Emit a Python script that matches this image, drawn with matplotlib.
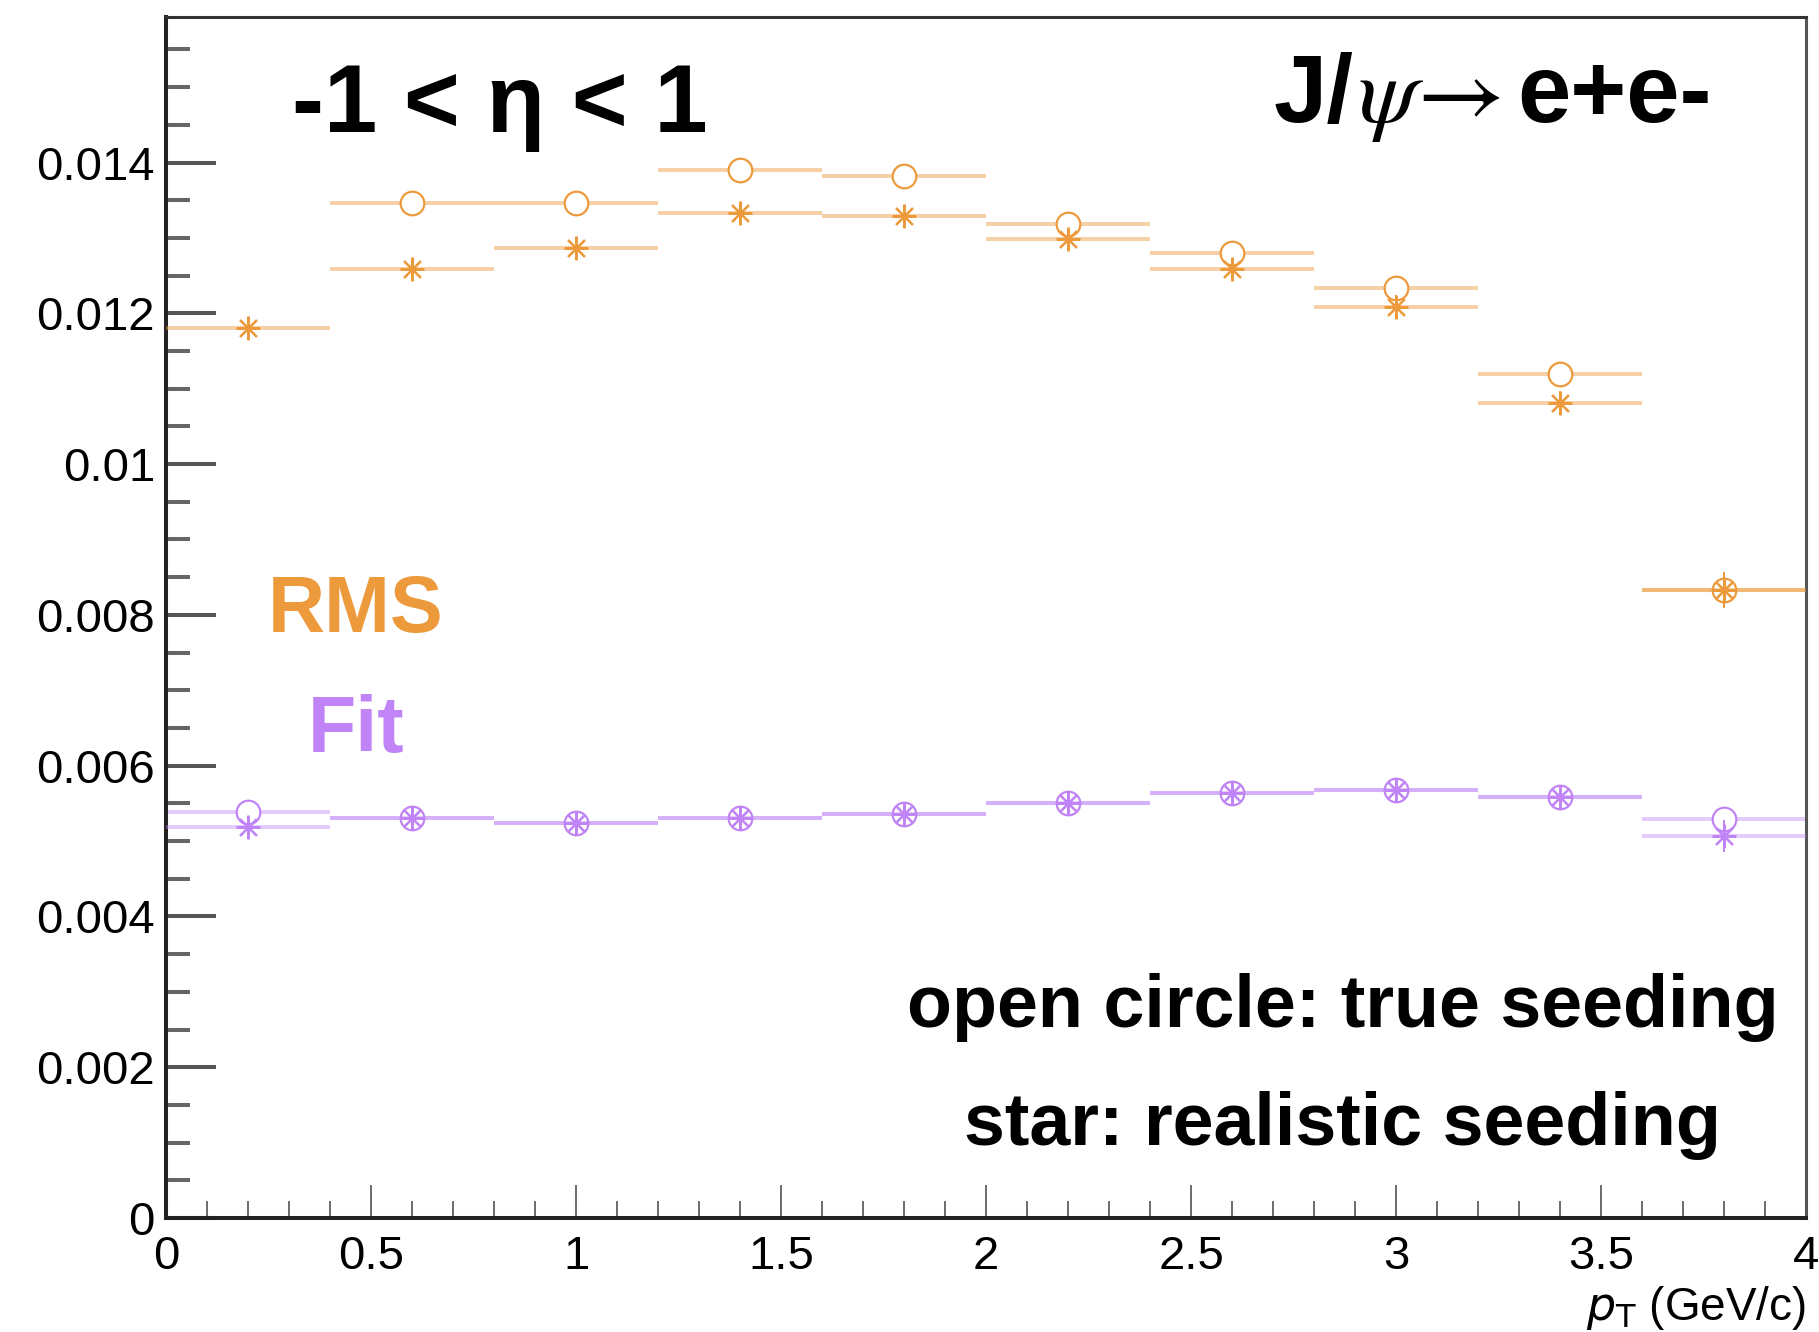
import numpy as np
import matplotlib
matplotlib.use("Agg")
import matplotlib.pyplot as plt
from matplotlib.ticker import MultipleLocator, FuncFormatter

plt.rcParams['font.family'] = ['Liberation Sans', 'DejaVu Sans']

# pT bins (centres, half width)
pt = [0.2, 0.6, 1.0, 1.4, 1.8, 2.2, 2.6, 3.0, 3.4, 3.8]
pt_half = [0.2] * 10

# RMS, open circle = true seeding, star = realistic seeding
rms_true = [np.nan, 0.01347, 0.01347, 0.01390, 0.01382, 0.01319, 0.01280, 0.01234, 0.01120, 0.00833]
rms_true_err = [0.0, 0.00008, 0.00008, 0.00008, 0.00008, 0.00008, 0.00008, 0.00009, 0.00010, 0.00024]
rms_real = [0.01181, 0.01259, 0.01287, 0.01333, 0.01329, 0.01298, 0.01259, 0.01209, 0.01081, 0.00833]
rms_real_err = [0.00013, 0.00014, 0.00014, 0.00014, 0.00014, 0.00014, 0.00014, 0.00015, 0.00016, 0.00024]

# Gaussian fit width
fit_true = [0.00539, 0.00531, 0.00524, 0.00531, 0.00536, 0.00550, 0.00564, 0.00568, 0.00559, 0.00529]
fit_true_err = [0.00008, 0.00008, 0.00008, 0.00008, 0.00008, 0.00008, 0.00008, 0.00008, 0.00008, 0.00016]
fit_real = [0.00518, 0.00531, 0.00524, 0.00531, 0.00536, 0.00550, 0.00564, 0.00568, 0.00559, 0.00507]
fit_real_err = [0.00012, 0.00012, 0.00012, 0.00012, 0.00012, 0.00012, 0.00012, 0.00012, 0.00012, 0.00021]

orange = '#EC9A3C'
purple = '#C084F6'

fig = plt.figure(figsize=(18.19, 13.32), dpi=100)
ax = fig.add_axes([0.0913, 0.0856, 0.9016, 0.9016])


def draw_series(x, y, yerr, color, marker, line_alpha, z):
    # horizontal bin-width bars (light), then thin vertical errors + marker
    ax.errorbar(x, y, xerr=pt_half, fmt='none', ecolor=color, elinewidth=2.9,
                alpha=line_alpha, capsize=0, zorder=z)
    ax.errorbar(x, y, yerr=yerr, fmt='none', ecolor=color, elinewidth=1.4,
                capsize=0, zorder=z + 0.1)
    if marker == 'o':
        ax.plot(x, y, linestyle='none', marker='o', ms=17, mfc='white', mec=color,
                mew=1.6, zorder=z + 0.2)
    else:
        ax.plot(x, y, linestyle='none', marker=(8, 2, 0), ms=17, mec=color,
                mew=1.6, zorder=z + 0.2)


draw_series(pt, rms_true, rms_true_err, orange, 'o', 0.45, 2)
draw_series(pt, rms_real, rms_real_err, orange, '*', 0.45, 3)
draw_series(pt, fit_true, fit_true_err, purple, 'o', 0.4, 2)
draw_series(pt, fit_real, fit_real_err, purple, '*', 0.4, 3)

ax.set_xlim(0, 4)
ax.set_ylim(0, 0.01593)

ax.xaxis.set_major_locator(MultipleLocator(0.5))
ax.xaxis.set_minor_locator(MultipleLocator(0.1))
ax.yaxis.set_major_locator(MultipleLocator(0.002))
ax.yaxis.set_minor_locator(MultipleLocator(0.0005))
fmt = FuncFormatter(lambda v, p: '0' if abs(v) < 1e-12 else '%g' % round(v, 6))
ax.xaxis.set_major_formatter(fmt)
ax.yaxis.set_major_formatter(fmt)

ax.tick_params(axis='y', which='major', direction='in', length=36, width=2.9,
               color='#555555', labelsize=34, pad=8, right=False)
ax.tick_params(axis='y', which='minor', direction='in', length=17, width=2.9,
               color='#666666', right=False)
ax.tick_params(axis='x', which='major', direction='in', length=24, width=1.1,
               color='#444444', labelsize=34, pad=12, top=False)
ax.tick_params(axis='x', which='minor', direction='in', length=12, width=1.1,
               color='#444444', top=False)

for side, lw, c in [('left', 2.9, '#222222'), ('bottom', 2.9, '#222222'),
                    ('top', 2.2, '#333333'), ('right', 2.2, '#555555')]:
    ax.spines[side].set_linewidth(lw)
    ax.spines[side].set_color(c)

ax.set_xlabel(r'$p_{\mathrm{T}}$ (GeV/c)', fontsize=33, loc='right', labelpad=4)


def px(x, y):
    return x / 1819, 1 - y / 1332


fig.text(*px(292, 132), '-1 < η < 1', fontsize=69, fontweight='bold',
         ha='left', va='baseline')
# J/psi -> e+e-, split so the symbol-font psi and arrow sit like the original
fig.text(*px(1274, 122), 'J/', fontsize=69, fontweight='bold',
         ha='left', va='baseline')
fig.text(*px(1358, 122), r'$\psi\!\rightarrow$', fontsize=69,
         ha='left', va='baseline', math_fontfamily='stix')
fig.text(*px(1517, 122), 'e+e-', fontsize=69, fontweight='bold',
         ha='left', va='baseline')
fig.text(*px(356, 632), 'RMS', fontsize=57, fontweight='bold', color=orange,
         ha='center', va='baseline')
fig.text(*px(356, 752), 'Fit', fontsize=57, fontweight='bold', color=purple,
         ha='center', va='baseline')
fig.text(*px(1343, 1027), 'open circle: true seeding', fontsize=53, fontweight='bold',
         ha='center', va='baseline')
fig.text(*px(1342, 1145), 'star: realistic seeding', fontsize=53, fontweight='bold',
         ha='center', va='baseline')

fig.savefig('out.png', dpi=100)
